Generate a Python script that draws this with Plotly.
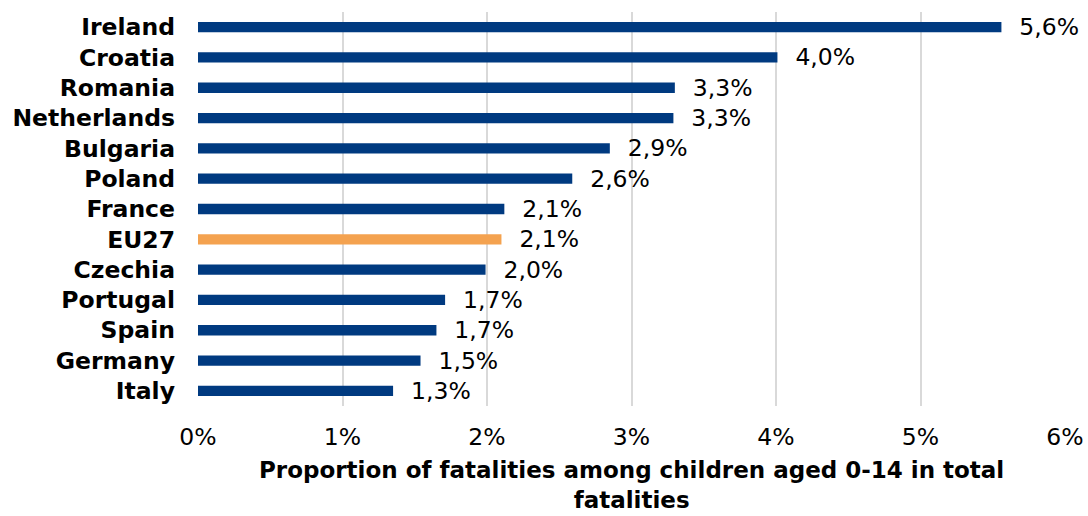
import plotly.graph_objects as go

countries = ["Ireland", "Croatia", "Romania", "Netherlands", "Bulgaria", "Poland",
             "France", "EU27", "Czechia", "Portugal", "Spain", "Germany", "Italy"]
shares = [5.56, 4.01, 3.30, 3.29, 2.85, 2.59, 2.12, 2.10, 1.99, 1.71, 1.65, 1.54, 1.35]
labels = ["5,6%", "4,0%", "3,3%", "3,3%", "2,9%", "2,6%", "2,1%", "2,1%",
          "2,0%", "1,7%", "1,7%", "1,5%", "1,3%"]
tick_vals = [0, 1, 2, 3, 4, 5, 6]
tick_text = ["0%", "1%", "2%", "3%", "4%", "5%", "6%"]
x_title = "Proportion of fatalities among children aged 0-14 in total<br>fatalities"

NAVY = "#003A80"
ORANGE = "#F4A24F"
FONT = "DejaVu Sans, Verdana, sans-serif"
SIZE = 23.5

colors = [ORANGE if c == "EU27" else NAVY for c in countries]

fig = go.Figure(
    go.Bar(
        y=countries,
        x=shares,
        orientation="h",
        marker_color=colors,
        marker_line_width=0,
        width=0.34,
        text=["\u00a0\u00a0" + t for t in labels],
        textposition="outside",
        constraintext="none",
        textfont=dict(family=FONT, size=SIZE, color="#000000"),
        cliponaxis=False,
    )
)

fig.update_layout(
    width=1088,
    height=516,
    margin=dict(l=198, r=23, t=12, b=110),
    plot_bgcolor="white",
    paper_bgcolor="white",
    showlegend=False,
    font=dict(family=FONT, size=SIZE, color="#000000"),
    xaxis=dict(
        range=[0, 6],
        tickvals=tick_vals,
        ticktext=tick_text,
        showgrid=True,
        gridcolor="#D9D9D9",
        gridwidth=2,
        zeroline=False,
        showline=False,
        ticklabelstandoff=14,
        tickfont=dict(size=SIZE),
        automargin=False,
    ),
    yaxis=dict(
        categoryorder="array",
        categoryarray=countries[::-1],
        showgrid=False,
        zeroline=False,
        showline=False,
        ticklabelstandoff=22,
        tickfont=dict(size=SIZE),
        tickprefix="<b>",
        ticksuffix="</b>",
        automargin=False,
    ),
)

# axis title as an annotation so its position is exact
fig.add_annotation(
    text="<b>" + x_title + "</b>",
    xref="paper",
    yref="paper",
    x=0.5,
    y=0,
    xanchor="center",
    yanchor="middle",
    yshift=-79,
    showarrow=False,
    font=dict(family=FONT, size=23, color="#000000"),
)

# drop the default page margin so the figure fills the window exactly
fig.write_html(
    "out.html",
    config={"displayModeBar": False},
    post_script="document.body.style.margin='0';document.body.style.overflow='hidden';",
)
